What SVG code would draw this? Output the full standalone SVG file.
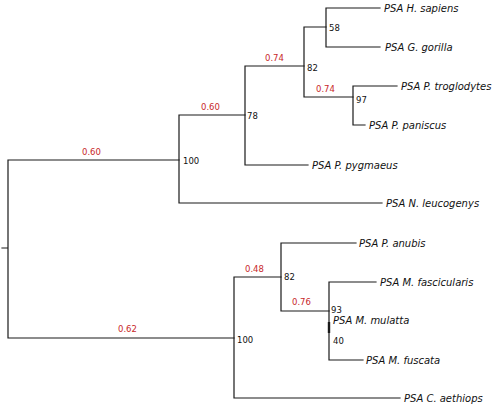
<svg xmlns="http://www.w3.org/2000/svg" width="500" height="409" viewBox="0 0 500 409">
<style>
.e{fill:none;stroke:#1a1a1a;stroke-width:1.2;stroke-linecap:square}
.t{font-family:"DejaVu Sans",Verdana,sans-serif;font-style:italic;font-size:10px;fill:#111}
.b{font-family:"DejaVu Sans",Verdana,sans-serif;font-size:8.5px;fill:#111}
.r{font-family:"DejaVu Sans",Verdana,sans-serif;font-size:8.5px;fill:#c8282a}
</style>
<rect width="500" height="409" fill="#fff"/>
<g id="connectors">
<path class="e" d="M2,248H8M8,160V338M8,160H179M8,338H234"/>
<path class="e" d="M179,115V203M179,115H245M179,203H382"/>
<path class="e" d="M245,66V165M245,66H304M245,165H308"/>
<path class="e" d="M304,27V97M304,27H326M304,97H353"/>
<path class="e" d="M326,8V47M326,8H380M326,47H380"/>
<path class="e" d="M353,86V125M353,86H397M353,125H365"/>
<path class="e" d="M234,277V398M234,277H281M234,398H400"/>
<path class="e" d="M281,243V311M281,243H356M281,311H329"/>
<path class="e" d="M329,282V360M329,282H376M329,360H363"/>
<path d="M329,322V333" stroke="#1a1a1a" stroke-width="2.4" fill="none"/>
</g>
<g id="branch-labels">
<text class="r" x="82" y="155">0.60</text>
<text class="r" x="201" y="110">0.60</text>
<text class="r" x="265" y="61">0.74</text>
<text class="r" x="316" y="92">0.74</text>
<text class="r" x="118" y="332">0.62</text>
<text class="r" x="245" y="272">0.48</text>
<text class="r" x="292" y="305">0.76</text>
</g>
<g id="support-labels">
<text class="b" x="183" y="164">100</text>
<text class="b" x="247" y="119">78</text>
<text class="b" x="307" y="71">82</text>
<text class="b" x="329" y="31">58</text>
<text class="b" x="356" y="103">97</text>
<text class="b" x="237" y="343">100</text>
<text class="b" x="284" y="280">82</text>
<text class="b" x="331" y="313">93</text>
<text class="b" x="333" y="344">40</text>
</g>
<g id="n-hsapiens"><text class="t" x="384" y="12">PSA H. sapiens</text></g>
<g id="n-ggorilla"><text class="t" x="385" y="51">PSA G. gorilla</text></g>
<g id="n-ptroglodytes"><text class="t" x="401" y="90">PSA P. troglodytes</text></g>
<g id="n-ppaniscus"><text class="t" x="369" y="129">PSA P. paniscus</text></g>
<g id="n-ppygmaeus"><text class="t" x="312" y="169">PSA P. pygmaeus</text></g>
<g id="n-nleucogenys"><text class="t" x="386" y="207">PSA N. leucogenys</text></g>
<g id="n-panubis"><text class="t" x="359" y="247">PSA P. anubis</text></g>
<g id="n-mfascicularis"><text class="t" x="380" y="286">PSA M. fascicularis</text></g>
<g id="n-mmulatta"><text class="t" x="333" y="324">PSA M. mulatta</text></g>
<g id="n-mfuscata"><text class="t" x="366" y="364">PSA M. fuscata</text></g>
<g id="n-caethiops"><text class="t" x="404" y="402">PSA C. aethiops</text></g>
</svg>
